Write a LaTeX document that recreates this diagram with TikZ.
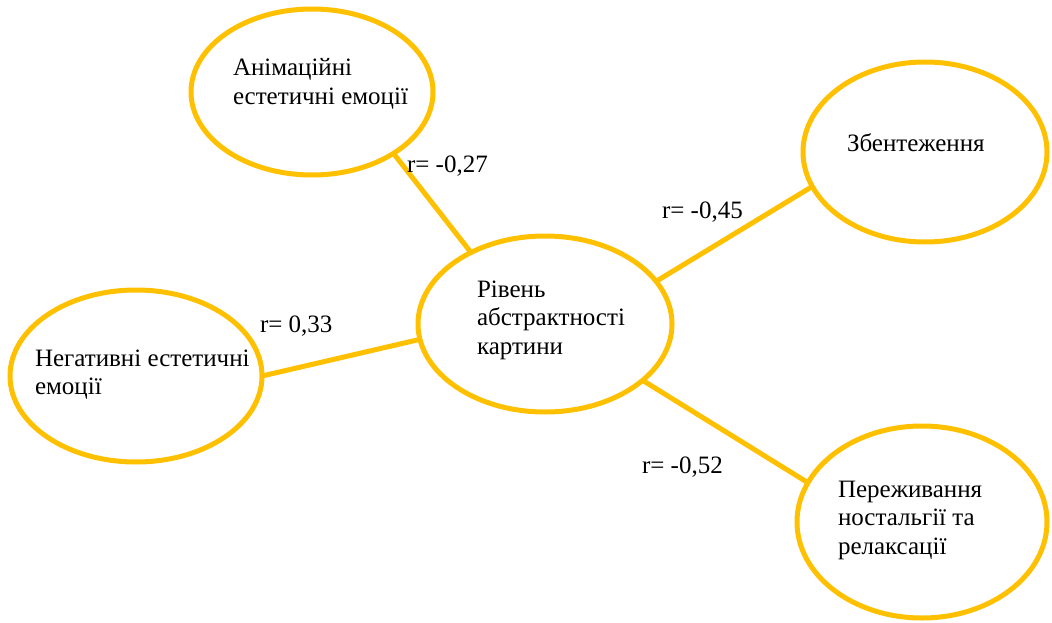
\documentclass[tikz,border=0pt]{standalone}
\usepackage{fontspec}
\setmainfont{Liberation Serif}
\usetikzlibrary{shapes.geometric}
\definecolor{gold}{HTML}{FFC000}
\begin{document}
\begin{tikzpicture}[x=1pt,y=-1pt,
  oval/.style={ellipse,draw=gold,line width=5pt,inner sep=0pt,outer sep=0pt},
  txt/.style={inner sep=0pt,outer sep=0pt,anchor=base west,font=\fontsize{25}{28.5}\selectfont},
  link/.style={draw=gold,line width=5pt}]
\useasboundingbox (0,0) rectangle (1052,623);
\node[oval,minimum width=242pt,minimum height=166pt] (anim) at (312,92) {};
\node[oval,minimum width=254pt,minimum height=176pt] (level) at (545,324) {};
\node[oval,minimum width=252pt,minimum height=172pt] (neg) at (136,376) {};
\node[oval,minimum width=244pt,minimum height=180pt] (zb) at (925,152) {};
\node[oval,minimum width=250pt,minimum height=192pt] (nost) at (922,522) {};
\node[txt] (tanim) at (233,76) {\vtop{\hbox{Анімаційні}\hbox{естетичні емоції}}};
\node[txt] (tlevel) at (477,297) {\vtop{\hbox{Рівень}\hbox{абстрактності}\hbox{картини}}};
\node[txt] (tneg) at (35,366) {\vtop{\hbox{Негативні естетичні}\hbox{емоції}}};
\node[txt] (tzb) at (847,152) {Збентеження};
\node[txt] (tnost) at (838,497) {\vtop{\hbox{Переживання}\hbox{ностальгії та}\hbox{релаксації}}};
\draw[link] (anim.-37) -- (level.136);
\draw[link] (neg.0) -- (level.187);
\draw[link] (level.21) -- (zb.197);
\draw[link] (level.-30) -- (nost.161);
\node[txt] (r1) at (407,172) {r= -0,27};
\node[txt] (r2) at (260,332) {r= 0,33};
\node[txt] (r3) at (662,218) {r= -0,45};
\node[txt] (r4) at (642,473) {r= -0,52};
\end{tikzpicture}
\end{document}
